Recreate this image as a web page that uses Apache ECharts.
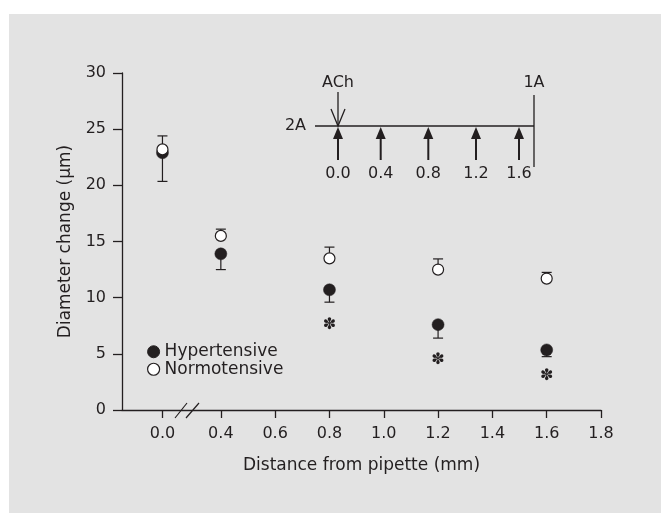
<!DOCTYPE html>
<html>
<head>
<meta charset="utf-8">
<script src="https://cdn.jsdelivr.net/npm/echarts@6/dist/echarts.min.js"></script>
<style>
html,body{margin:0;padding:0;background:#fff;}
#bg{position:absolute;left:9px;top:14px;width:652px;height:499px;background:#e3e3e3;}
#chart{position:absolute;left:0;top:0;width:661px;height:513px;}
</style>
</head>
<body>
<div id="bg"></div>
<div id="chart"></div>
<script>
// ---- data ----
const distances = [0.0, 0.4, 0.8, 1.2, 1.6];
const hyperMean = [22.9, 13.9, 10.7, 7.6, 5.35];
const hyperErr  = [2.55, 1.4, 1.1, 1.2, 0.6];
const normoMean = [23.2, 15.5, 13.5, 12.5, 11.7];
const normoErr  = [1.2, 0.6, 1.0, 0.95, 0.55];
const sigDist = [0.8, 1.2, 1.6];
const sigY = [7.6, 4.45, 3.0];
const xTicks = [0.0, 0.4, 0.6, 0.8, 1.0, 1.2, 1.4, 1.6, 1.8];
const yTicks = [0, 5, 10, 15, 20, 25, 30];
const insetLabels = ['0.0', '0.4', '0.8', '1.2', '1.6'];
const seriesNames = ['Hypertensive', 'Normotensive'];

// broken axis: value 0.0 is drawn at this position
const BREAK_POS = 0.185;
const pos = d => (d === 0 ? BREAK_POS : d);
const tickPos = xTicks.map(pos);

const INK = '#231f20';
const FONT = 'DejaVu Sans';

const chart = echarts.init(document.getElementById('chart'), null, {renderer: 'canvas'});

function errItem(mean, err, dir) {
  return mean.map((m, i) => [pos(distances[i]), m, err[i], dir]);
}

function renderErr(params, api) {
  const x = api.value(0), y = api.value(1), e = api.value(2), dir = api.value(3);
  const p0 = api.coord([x, y]);
  const p1 = api.coord([x, y + dir * e]);
  const hw = 5;
  return {
    type: 'group',
    children: [
      {type: 'line', shape: {x1: p0[0], y1: p0[1], x2: p1[0], y2: p1[1]}, style: {stroke: INK, lineWidth: 1.2}},
      {type: 'line', shape: {x1: p1[0] - hw, y1: p1[1], x2: p1[0] + hw, y2: p1[1]}, style: {stroke: INK, lineWidth: 1.2}}
    ]
  };
}

function renderSig(params, api) {
  const p = api.coord([api.value(0), api.value(1)]);
  return {type: 'text', style: {text: '✽', x: p[0], y: p[1], align: 'center', verticalAlign: 'middle',
    font: '16px "DejaVu Sans"', fill: INK}};
}

// inset schematic layout (pixels)
const insetY = 126;
const insetArrowX = [338, 380.7, 428.3, 476, 519];
const graphics = [];
graphics.push({type: 'line', shape: {x1: 315, y1: insetY, x2: 534, y2: insetY}, style: {stroke: INK, lineWidth: 1.3}});
graphics.push({type: 'line', shape: {x1: 534, y1: 95, x2: 534, y2: 167}, style: {stroke: INK, lineWidth: 1.3}});
graphics.push({type: 'text', style: {text: '2A', x: 306, y: insetY, align: 'right', verticalAlign: 'middle', font: '16px "DejaVu Sans"', fill: INK}});
graphics.push({type: 'text', style: {text: 'ACh', x: 338, y: 83, align: 'center', verticalAlign: 'middle', font: '16px "DejaVu Sans"', fill: INK}});
graphics.push({type: 'text', style: {text: '1A', x: 534, y: 83, align: 'center', verticalAlign: 'middle', font: '16px "DejaVu Sans"', fill: INK}});
// ACh down arrow (open head)
graphics.push({type: 'line', shape: {x1: 338, y1: 92, x2: 338, y2: insetY}, style: {stroke: INK, lineWidth: 1.3}});
graphics.push({type: 'polyline', shape: {points: [[331, 109], [338, insetY], [345, 109]]}, style: {stroke: INK, lineWidth: 1.3, fill: null}});
insetArrowX.forEach((ax, i) => {
  graphics.push({type: 'line', shape: {x1: ax, y1: 136, x2: ax, y2: 160}, style: {stroke: INK, lineWidth: 2}});
  graphics.push({type: 'polygon', shape: {points: [[ax, insetY + 1], [ax - 5, 139], [ax + 5, 139]]}, style: {fill: INK}});
  graphics.push({type: 'text', style: {text: insetLabels[i], x: ax, y: 174, align: 'center', verticalAlign: 'middle', font: '16px "DejaVu Sans"', fill: INK}});
});
// axis break marks
graphics.push({type: 'line', shape: {x1: 175, y1: 418, x2: 187, y2: 403}, style: {stroke: INK, lineWidth: 1.2}});
graphics.push({type: 'line', shape: {x1: 186, y1: 418, x2: 199, y2: 403}, style: {stroke: INK, lineWidth: 1.2}});

const option = {
  backgroundColor: 'transparent',
  animation: false,
  textStyle: {fontFamily: FONT, color: INK},
  grid: {left: 122, right: 60, top: 73, bottom: 103, containLabel: false},
  legend: {
    orient: 'vertical', left: 142, top: 338,
    itemWidth: 12, itemHeight: 12, itemGap: 0,
    textStyle: {fontFamily: FONT, fontSize: 17, color: INK, lineHeight: 17.5},
    data: [
      {name: seriesNames[0], icon: 'circle', itemStyle: {color: INK, borderColor: INK, borderWidth: 1}},
      {name: seriesNames[1], icon: 'circle', itemStyle: {color: '#fff', borderColor: INK, borderWidth: 1.2}}
    ]
  },
  xAxis: {
    type: 'value', min: 0.036, max: 1.8,
    name: 'Distance from pipette (mm)', nameLocation: 'middle', nameGap: 47,
    nameTextStyle: {fontFamily: FONT, fontSize: 17, color: INK},
    axisLine: {lineStyle: {color: INK, width: 1.3}},
    axisTick: {customValues: tickPos, length: 8, lineStyle: {color: INK, width: 1.3}},
    axisLabel: {
      customValues: tickPos, margin: 16, fontFamily: FONT, fontSize: 16, color: INK,
      formatter: v => { const i = tickPos.findIndex(t => Math.abs(t - v) < 1e-6); return i >= 0 ? xTicks[i].toFixed(1) : ''; }
    },
    splitLine: {show: false}
  },
  yAxis: {
    type: 'value', min: yTicks[0], max: yTicks[yTicks.length - 1], interval: 5,
    name: 'Diameter change (μm)', nameLocation: 'middle', nameGap: 48, nameRotate: 90,
    nameTextStyle: {fontFamily: FONT, fontSize: 17, color: INK},
    axisLine: {show: true, lineStyle: {color: INK, width: 1.3}},
    axisTick: {show: true, length: 9, lineStyle: {color: INK, width: 1.3}},
    axisLabel: {margin: 16, fontFamily: FONT, fontSize: 16, color: INK},
    splitLine: {show: false}
  },
  series: [
    {type: 'custom', name: 'hyperErr', renderItem: renderErr, data: errItem(hyperMean, hyperErr, -1), z: 2, encode: {x: 0, y: 1}},
    {type: 'custom', name: 'normoErr', renderItem: renderErr, data: errItem(normoMean, normoErr, 1), z: 2, encode: {x: 0, y: 1}},
    {type: 'scatter', name: seriesNames[0], symbol: 'circle', symbolSize: 12, z: 3,
      itemStyle: {color: INK, borderColor: INK, borderWidth: 0.5, opacity: 1},
      data: hyperMean.map((m, i) => [pos(distances[i]), m])},
    {type: 'scatter', name: seriesNames[1], symbol: 'circle', symbolSize: 11, z: 4,
      itemStyle: {color: '#fff', borderColor: INK, borderWidth: 1.2, opacity: 1},
      data: normoMean.map((m, i) => [pos(distances[i]), m])},
    {type: 'custom', name: 'sig', renderItem: renderSig, z: 3, encode: {x: 0, y: 1},
      data: sigDist.map((d, i) => [d, sigY[i]])}
  ],
  graphic: graphics
};
chart.setOption(option);
</script>
</body>
</html>
